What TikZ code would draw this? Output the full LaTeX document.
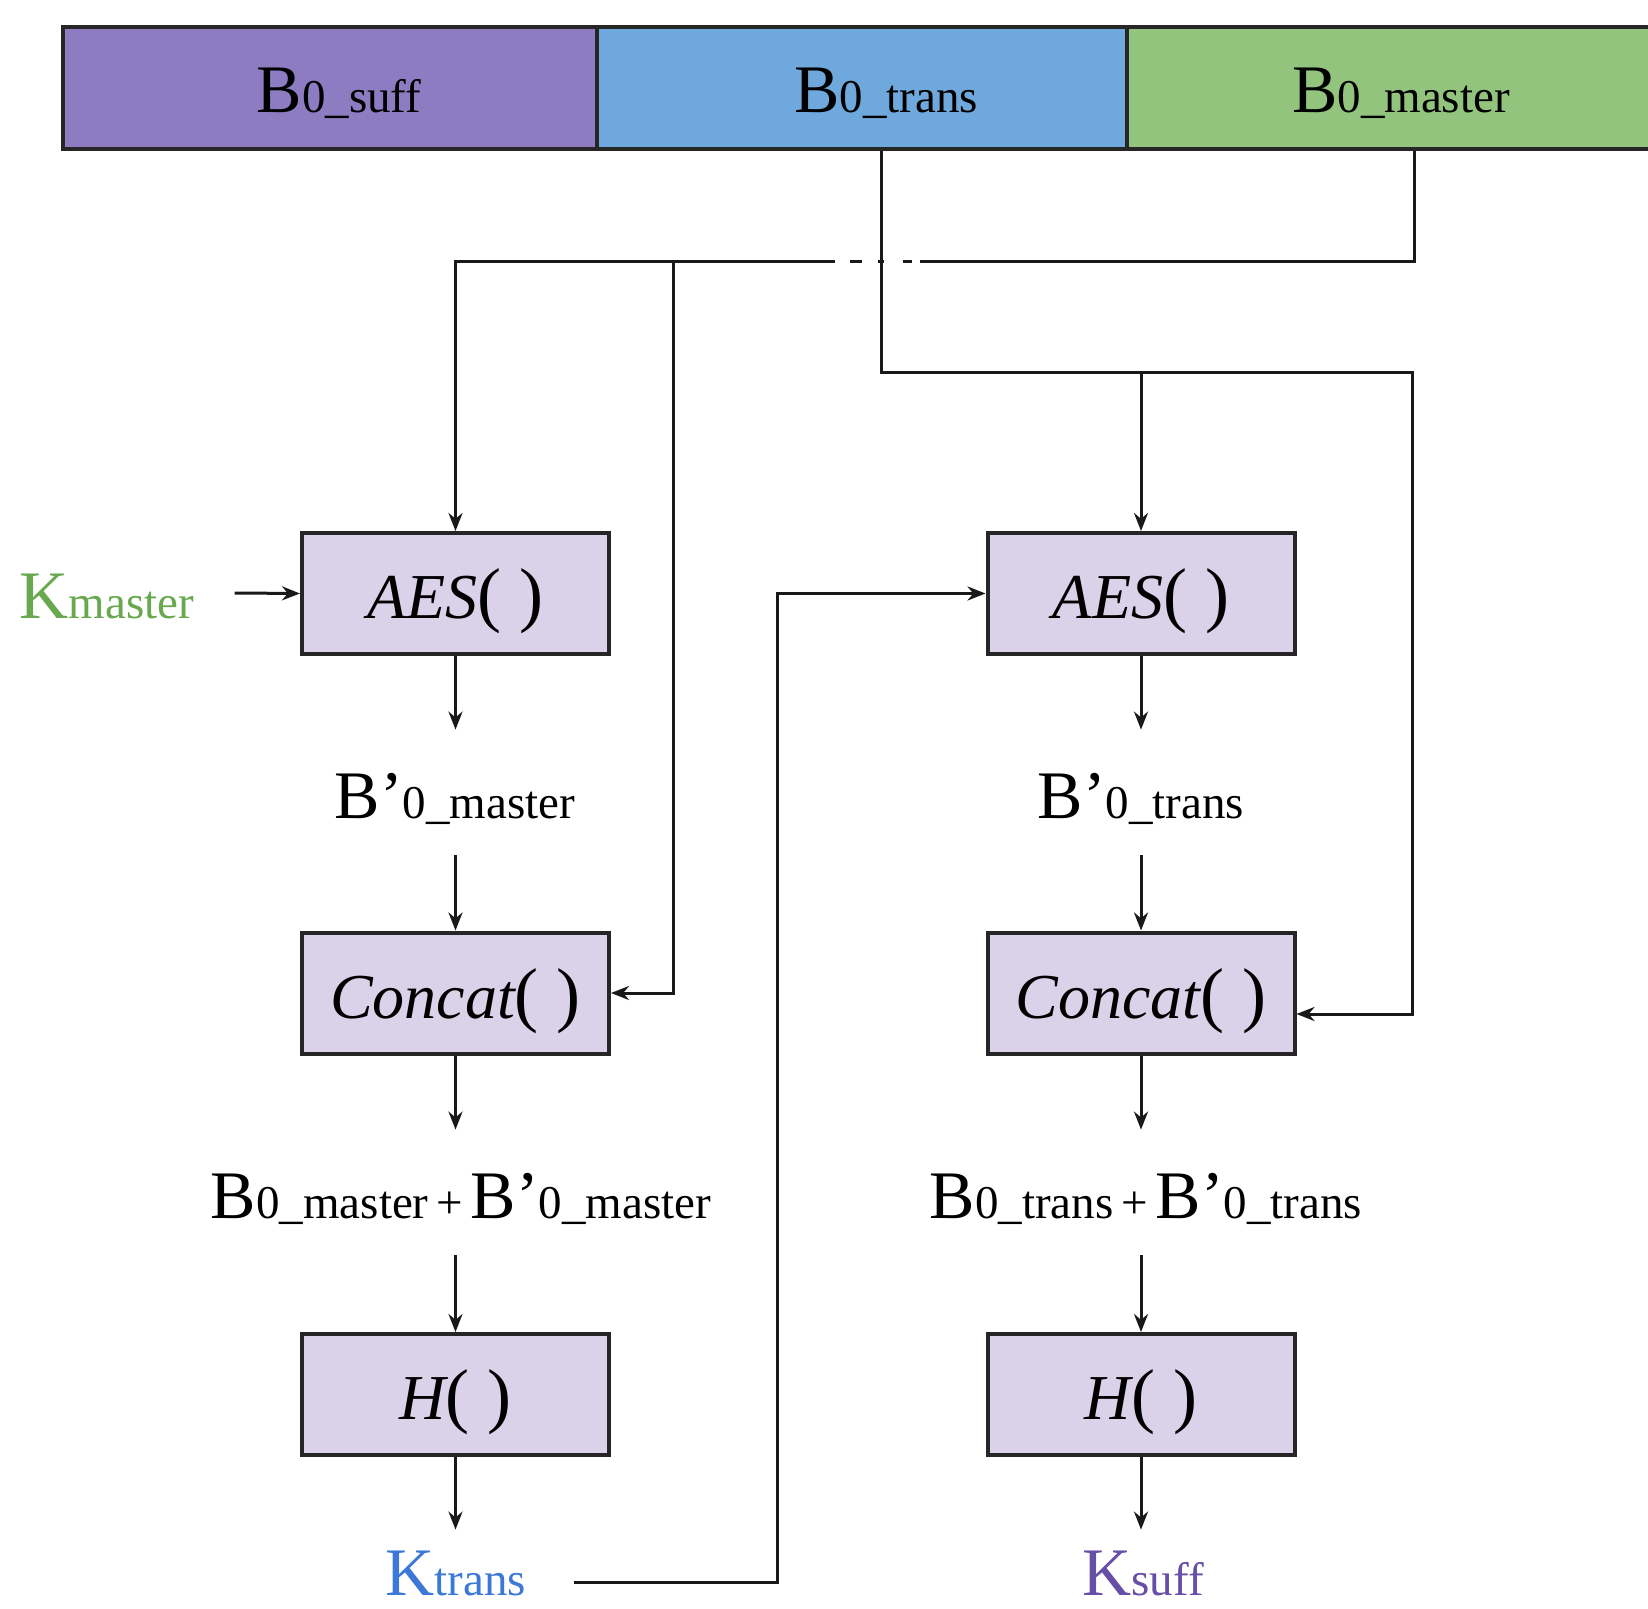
\documentclass[tikz,border=0pt]{standalone}
\usepackage{fontspec}
\setmainfont{Liberation Serif}
\usetikzlibrary{arrows.meta}

\definecolor{segsuff}{HTML}{8E7CC3}
\definecolor{segtrans}{HTML}{6FA8DC}
\definecolor{segmaster}{HTML}{93C47D}
\definecolor{opfill}{HTML}{D9D2E9}
\definecolor{kgreen}{HTML}{6AA84F}
\definecolor{kblue}{HTML}{3C78D8}
\definecolor{kpurple}{HTML}{674EA7}

% large letter and its small trailing index
\newcommand\bigt[1]{{\fontsize{34}{40}\selectfont #1}}
\newcommand\smallt[1]{{\fontsize{23.5}{28}\selectfont #1}}
% operation name in italics with empty parentheses
\newcommand\opname[1]{{\fontsize{32}{38}\selectfont\itshape #1}{\fontsize{36}{40}\selectfont( )}}

\begin{document}
\begin{tikzpicture}[x=0.5pt,y=-0.5pt,
  wire/.style={line width=1.5pt, draw=black!90},
  flow/.style={wire, -{Stealth[length=9pt,width=7pt]}},
  seg/.style={draw=black!85, line width=2pt, minimum height=61pt, inner sep=0pt},
  opbox/.style={draw=black!85, fill=opfill, line width=2pt, minimum width=153.5pt,
    minimum height=60.5pt, inner sep=0pt, text height=30pt, text depth=5pt},
  mid/.style={anchor=base, inner sep=0pt, text height=44pt, text depth=18.5pt},
  keyout/.style={anchor=base, inner sep=0pt, text height=32.5pt, text depth=19.5pt},
]
\useasboundingbox (0,0) rectangle (1648,1609);
\clip (0,0) rectangle (1648,1609);

% block layout bar
\node[seg, fill=segsuff,   minimum width=267pt] (suff)   at (330,88)  {};
\node[seg, fill=segtrans,  minimum width=265pt] (trans)  at (862,88)  {};
\node[seg, fill=segmaster, minimum width=287pt] (master) at (1414,88) {};
\node[anchor=base] (lsuff)   at (339,113)  {\bigt{B}\smallt{0\_suff}};
\node[anchor=base] (ltrans)  at (886,113)  {\bigt{B}\smallt{0\_trans}};
\node[anchor=base] (lmaster) at (1401,113) {\bigt{B}\smallt{0\_master}};

% left column: master key derivation
\node[opbox] (aes1)    at (455.5,593.5) {\opname{AES}};
\node[mid]   (bpm)     at (455,818)     {\bigt{B’}\smallt{0\_master}};
\node[opbox] (concat1) at (455.5,993)   {\opname{Concat}};
\node[mid]   (sum1)    at (461,1218)    {\bigt{B}\smallt{0\_master\,+\,}\bigt{B’}\smallt{0\_master}};
\node[opbox] (h1)      at (455.5,1394.5) {\opname{H}};
\node[keyout, inner xsep=23.5pt, text=kblue] (ktrans) at (456,1595) {\bigt{K}\smallt{trans}};
\node[anchor=base, inner sep=0pt, inner xsep=20pt, text height=32.5pt, text depth=7.5pt,
  text=kgreen] (kmaster) at (107,618) {\bigt{K}\smallt{master}};

% right column: transport key derivation
\node[opbox] (aes2)    at (1141,593.5) {\opname{AES}};
\node[mid]   (bpt)     at (1141,818)   {\bigt{B’}\smallt{0\_trans}};
\node[opbox] (concat2) at (1141,993)   {\opname{Concat}};
\node[mid]   (sum2)    at (1146,1218)  {\bigt{B}\smallt{0\_trans\,+\,}\bigt{B’}\smallt{0\_trans}};
\node[opbox] (h2)      at (1141,1394.5) {\opname{H}};
\node[keyout, text=kpurple] (ksuff) at (1143,1595) {\bigt{K}\smallt{suff}};

% master block fan-out
\coordinate (busM) at (673,262);
\draw[flow] (master.south) |- (busM) -| (aes1.north);
\draw[flow] (busM) |- (concat1.east);
% bridge where the transport line crosses
\foreach \a/\b in {835/850, 862/878, 884/903, 912/920}
  \draw[white, line width=2pt] (\a,262) -- (\b,262);

% transport block fan-out
\coordinate (busT) at (1412,373);
\draw[flow] ([xshift=9.5pt]trans.south) |- (busT) |- ([yshift=-10.5pt]concat2.east);
\draw[flow] (aes2.north |- busT) -- (aes2.north);

% keys
\draw[flow] (kmaster.east) -- (aes1.west);
\coordinate (kcol) at (777,593.5);
\draw[flow] (ktrans.east) -| (kcol) -- (aes2.west);

% left column flow
\draw[flow] (aes1.south) -- (aes1.south |- bpm.north);
\draw[flow] (bpm.south -| concat1.north) -- (concat1.north);
\draw[flow] (concat1.south) -- (concat1.south |- sum1.north);
\draw[flow] (sum1.south -| h1.north) -- (h1.north);
\draw[flow] (h1.south) -- (h1.south |- ktrans.north);

% right column flow
\draw[flow] (aes2.south) -- (aes2.south |- bpt.north);
\draw[flow] (bpt.south -| concat2.north) -- (concat2.north);
\draw[flow] (concat2.south) -- (concat2.south |- sum2.north);
\draw[flow] (sum2.south -| h2.north) -- (h2.north);
\draw[flow] (h2.south) -- (h2.south |- ksuff.north);
\end{tikzpicture}
\end{document}
